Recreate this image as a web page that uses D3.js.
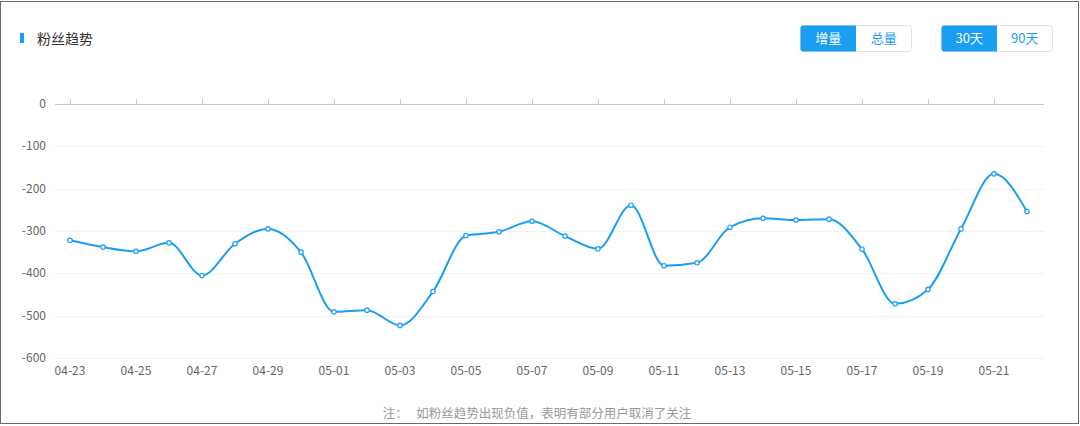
<!DOCTYPE html>
<html><head><meta charset="utf-8">
<script src="https://cdn.jsdelivr.net/npm/d3@7/dist/d3.min.js"></script>
<style>
html,body{margin:0;padding:0;background:#fff;}
svg{display:block;font-family:"Noto Sans CJK SC","Noto Sans",sans-serif;}
</style></head>
<body><svg id="c" width="1080" height="426"></svg>
<script>
const dates = ["04-23","04-24","04-25","04-26","04-27","04-28","04-29","04-30","05-01","05-02","05-03","05-04","05-05","05-06","05-07","05-08","05-09","05-10","05-11","05-12","05-13","05-14","05-15","05-16","05-17","05-18","05-19","05-20","05-21","05-22"];
const values = [-322,-338,-348,-328,-405,-330,-295,-350,-491,-487,-523,-443,-311,-302,-277,-312,-342,-239,-382,-375,-291,-270,-274,-272,-343,-472,-438,-295,-165,-254];
const yTicks = [0,-100,-200,-300,-400,-500,-600];
const title = "粉丝趋势";
const buttons1 = ["增量","总量"];
const buttons2 = ["30天","90天"];
const note = "注：   如粉丝趋势出现负值，表明有部分用户取消了关注";

const svg = d3.select("#c");
const blue = "#1a9ef0";

// frame
svg.append("rect").attr("x",0.5).attr("y",1.5).attr("width",1078).attr("height",422)
  .attr("fill","#fff").attr("stroke","#6b6b6b").attr("stroke-width",1);

// title
svg.append("rect").attr("x",20).attr("y",33).attr("width",4).attr("height",10).attr("fill",blue);
svg.append("text").attr("x",37).attr("y",44).attr("font-size",14).attr("fill","#333").text(title);

// button groups
function btnGroup(x0, labels){
  const w = 55.5, h = 26, y0 = 25;
  const g = svg.append("g");
  g.append("rect").attr("x",x0+0.5).attr("y",y0+0.5).attr("width",w*2).attr("height",h)
    .attr("rx",3).attr("fill","#fff").attr("stroke","#e3e3e3");
  g.append("path").attr("d",`M${x0+3.5},${y0+0.5} H${x0+w+0.5} V${y0+h+0.5} H${x0+3.5} Q${x0+0.5},${y0+h+0.5} ${x0+0.5},${y0+h-2.5} V${y0+3.5} Q${x0+0.5},${y0+0.5} ${x0+3.5},${y0+0.5}Z`).attr("fill",blue);
  labels.forEach((l,i)=>{
    g.append("text").attr("x",x0+w*i+w/2+0.5).attr("y",y0+18).attr("text-anchor","middle")
      .attr("font-size",13).attr("fill",i===0?"#fff":blue).text(l);
  });
}
btnGroup(800, buttons1);
btnGroup(941, buttons2);

// scales
const x = d3.scalePoint().domain(dates).range([53.5,1043.5]).padding(0.5);
const y = d3.scaleLinear().domain([-600,0]).range([358,104]);

// grid
svg.append("g").selectAll("line").data(yTicks.filter(d=>d!==0)).join("line")
  .attr("x1",55).attr("x2",1044).attr("y1",d=>Math.round(y(d))+0.5).attr("y2",d=>Math.round(y(d))+0.5)
  .attr("stroke","#f2f2f2");

// y labels
svg.append("g").selectAll("text").data(yTicks).join("text")
  .attr("x",46).attr("y",d=>y(d)+4).attr("text-anchor","end")
  .attr("font-size",12).attr("fill","#666").text(d=>d);

// zero axis line with upward ticks
svg.append("line").attr("x1",55).attr("x2",1044).attr("y1",104.5).attr("y2",104.5).attr("stroke","#c8c8c8");
const labeled = dates.filter((d,i)=>i%2===0);
svg.append("g").selectAll("line").data(labeled).join("line")
  .attr("x1",d=>Math.round(x(d))+0.5).attr("x2",d=>Math.round(x(d))+0.5)
  .attr("y1",99).attr("y2",104).attr("stroke","#c8c8c8");

// x labels
svg.append("g").selectAll("text").data(labeled).join("text")
  .attr("x",d=>x(d)).attr("y",375).attr("text-anchor","middle")
  .attr("font-size",12).attr("fill","#666").text(d=>d);

// line
const line = d3.line().x((d,i)=>x(dates[i])).y(d=>y(d)).curve(d3.curveMonotoneX);
svg.append("path").datum(values).attr("d",line).attr("fill","none")
  .attr("stroke",blue).attr("stroke-width",2);
svg.append("g").selectAll("circle").data(values).join("circle")
  .attr("cx",(d,i)=>x(dates[i])).attr("cy",d=>y(d)).attr("r",2.2)
  .attr("fill","#fff").attr("stroke",blue).attr("stroke-width",1.2);

// note
svg.append("text").attr("x",537).attr("y",418).attr("text-anchor","middle")
  .attr("font-size",12.5).attr("fill","#999").attr("xml:space","preserve").style("white-space","pre").text(note);
</script></body></html>
